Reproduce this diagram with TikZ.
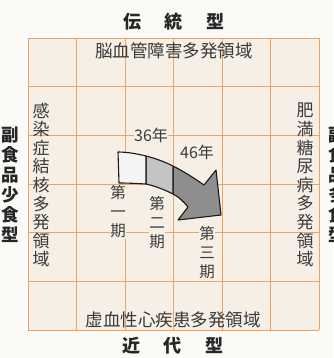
\documentclass[tikz,border=0pt]{standalone}
\usepackage{fontspec}
\setmainfont{Noto Sans CJK JP}
\definecolor{pagebg}{HTML}{FBFAF7}
\definecolor{gridbg}{HTML}{F5EFE6}
\definecolor{gridline}{HTML}{E9A468}
\definecolor{txt}{HTML}{3A3A3A}
\definecolor{segA}{HTML}{F4F4F4}
\definecolor{segB}{HTML}{C4C4C4}
\definecolor{segC}{HTML}{8E8E8E}
\tikzset{
  gridrule/.style={draw=gridline, line width=0.9pt},
  head/.style={text=black!85, font=\fontsize{18}{20}\selectfont\bfseries, inner sep=0pt},
  outertype/.style={text=black!85, font=\fontsize{17.5}{20}\selectfont\bfseries, align=center, inner sep=0pt},
  region/.style={text=txt, font=\fontsize{17.5}{18.6}\selectfont, inner sep=0pt},
  vcol/.style={text=txt, font=\fontsize{17}{18.6}\selectfont, align=center, inner sep=0pt},
  period/.style={text=txt, font=\fontsize{15.5}{19}\selectfont, align=center, inner sep=0.6pt, fill=gridbg},
  yearlbl/.style={text=txt, font=\fontsize{16}{18}\selectfont, inner sep=0.6pt, fill=gridbg},
  arrowseg/.style={draw=black!90, line width=1.1pt, line join=round}
}
\begin{document}
\begin{tikzpicture}[x=1pt,y=-1pt]
\useasboundingbox (0,0) rectangle (333,358);
\clip (0,0) rectangle (333,358);
\fill[pagebg] (0,0) rectangle (333,358);
\fill[gridbg] (28,38) rectangle (319,330);
\foreach \i in {0,...,6}{
  \draw[gridrule] ({28+\i*48.5},38) -- ({28+\i*48.5},330);
  \draw[gridrule] (28,{38+\i*48.667}) -- (319,{38+\i*48.667});
}
% arrow
\coordinate (A) at (118,152);
\coordinate (B) at (119,183);
\coordinate (P1t) at (146,156);
\coordinate (P1b) at (146,184);
\coordinate (P2t) at (173,166);
\coordinate (P2b) at (173,194);
\coordinate (U) at (204,185);
\coordinate (W1) at (216,170);
\coordinate (T) at (221,215);
\coordinate (W2) at (178,220);
\coordinate (W3) at (188,207);
\filldraw[arrowseg, fill=segC] (P2t) .. controls (183,171) and (194,178) .. (U) -- (W1) -- (T) -- (W2) -- (W3)
   .. controls (184,202) and (179,197) .. (P2b) -- cycle;
\filldraw[arrowseg, fill=segB] (P1t) .. controls (155,158.3) and (164,161.5) .. (P2t) -- (P2b)
   .. controls (164,189.5) and (155,186) .. (P1b) -- cycle;
\filldraw[arrowseg, fill=segA] (A) .. controls (127,152) and (137,153.8) .. (P1t) -- (P1b)
   .. controls (137,183.5) and (128,183) .. (B) -- cycle;
% texts
\node[head] (trad) at (174,22) {伝\hspace{23.5pt}統\hspace{23.5pt}型};
\node[head] (modern) at (173,346) {近\hspace{23.5pt}代\hspace{23.5pt}型};
\node[region] (cvd) at (174,51) {脳血管障害多発領域};
\node[region] (ihd) at (173,320) {虚血性心疾患多発領域};
\node[vcol] (inf) at (41,185) {感\\染\\症\\結\\核\\多\\発\\領\\域};
\node[vcol] (obe) at (305,185) {肥\\満\\糖\\尿\\病\\多\\発\\領\\域};
\node[outertype] (low) at (10,185) {副\\食\\品\\少\\食\\型};
\node[outertype] (high) at (337,185) {副\\食\\品\\多\\食\\型};
\node[yearlbl] (y36) at (151,135) {36年};
\node[yearlbl] (y46) at (197,152) {46年};
\node[period] (p1) at (118,212) {第\\一\\期};
\node[period] (p2) at (157,223) {第\\二\\期};
\node[period] (p3) at (207,253) {第\\三\\期};
\end{tikzpicture}
\end{document}
